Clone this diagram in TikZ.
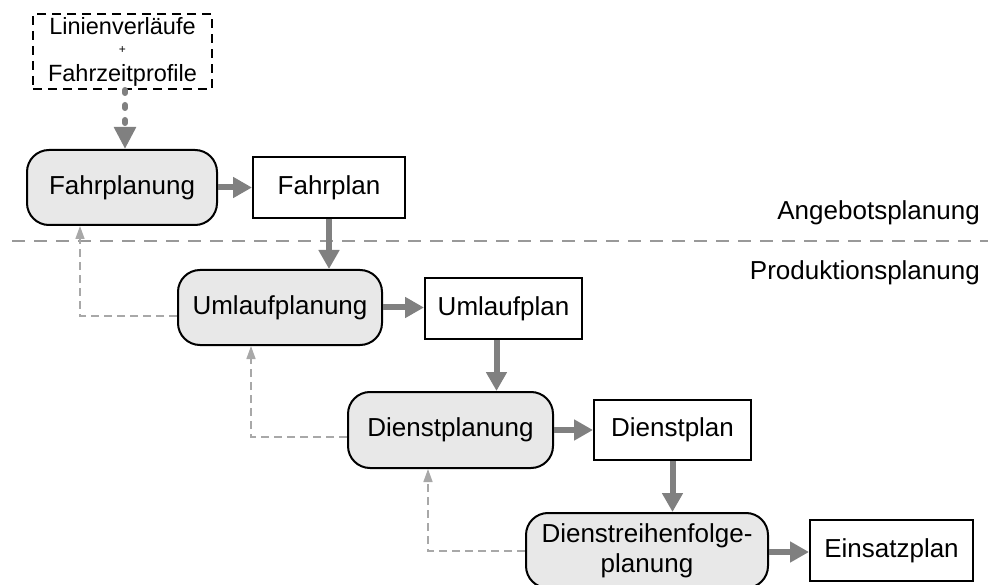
\documentclass[tikz,border=0pt]{standalone}
\usepackage{fontspec}
\setmainfont{Liberation Sans}
\usetikzlibrary{arrows.meta}
\definecolor{boxfill}{HTML}{E8E8E8}
\definecolor{flowgray}{HTML}{808080}
\definecolor{fbgray}{HTML}{A8A8A8}
\definecolor{sepgray}{HTML}{999999}

\begin{document}
\begin{tikzpicture}[x=1pt,y=-1pt,
  every node/.style={font=\fontsize{26}{30}\selectfont, inner sep=0pt},
  process/.style={draw=black, line width=2pt, fill=boxfill, rounded corners=22pt,
    align=center, text height=18.6pt, text depth=5.5pt},
  result/.style={draw=black, line width=2pt, fill=white,
    text height=18.6pt, text depth=5.5pt},
  sourcebox/.style={draw=black, line width=2pt, dash pattern=on 9pt off 6pt},
  flow/.style={draw=flowgray, line width=6pt, -{Triangle[width=20pt,length=19pt]}},
  dotflow/.style={flow, line cap=round, dash pattern=on 3pt off 12pt,
    -{Triangle[width=21pt,length=22pt]}},
  feedback/.style={draw=fbgray, line width=1.5pt, dash pattern=on 8pt off 5pt,
    -{Triangle[width=9pt,length=13pt]}},
  separator/.style={draw=sepgray, line width=2pt, dash pattern=on 13pt off 9pt},
  level/.style={anchor=base east}
]
\useasboundingbox (0,0) rectangle (988,585);
\clip (0,0) rectangle (988,585);

% input data
\node[sourcebox, minimum width=179pt, minimum height=75pt] (src) at (122.5,51.5) {};
\node[anchor=base, font=\fontsize{23.5}{28}\selectfont] (srcA) at (122.5,35) {Linienverläufe};
\node[anchor=base, font=\fontsize{12}{14}\selectfont] (srcPlus) at (122.5,54) {+};
\node[anchor=base, font=\fontsize{23.5}{28}\selectfont] (srcB) at (122.5,82) {Fahrzeitprofile};

% planning steps and their results
\node[process, minimum width=190pt, minimum height=75pt] (fplg) at (122,187.5) {Fahrplanung};
\node[result, minimum width=152pt, minimum height=61pt] (fpl) at (329,187.5) {Fahrplan};
\node[process, minimum width=204pt, minimum height=75pt] (ulfg) at (280,307.5) {Umlaufplanung};
\node[result, minimum width=157pt, minimum height=61pt] (ulf) at (503.5,308.5) {Umlaufplan};
\node[process, minimum width=205pt, minimum height=76pt] (dplg) at (450.5,430) {Dienstplanung};
\node[result, minimum width=157pt, minimum height=60pt] (dpl) at (672.5,430) {Dienstplan};
\node[process, minimum width=242pt, minimum height=75pt, text height=, text depth=]
  (drf) at (647,550.5) {Dienstreihenfolge-\\planung};
\node[result, minimum width=163pt, minimum height=61pt] (esp) at (891.5,550.5) {Einsatzplan};

% planning levels
\coordinate (sepL) at (12,241);
\coordinate (sepR) at (988,241);
\draw[separator] (sepL) -- (sepR);
\node[level] (angebot) at (980,220) {Angebotsplanung};
\node[level] (produktion) at (980,280) {Produktionsplanung};

% main flow
\draw[dotflow] ([xshift=2.5pt]src.south) -- ([xshift=2.5pt]src.south |- fplg.north);
\draw[flow] (fplg.east) -- (fpl.west);
\draw[flow] (fpl.south) -- (fpl.south |- ulfg.north);
\draw[flow] (ulfg.east) -- (ulf.west |- ulfg.east);
\draw[flow] ([xshift=-7pt]ulf.south) -- ([xshift=-7pt]ulf.south |- dplg.north);
\draw[flow] (dplg.east) -- (dpl.west);
\draw[flow] (dpl.south) -- (dpl.south |- drf.north);
\draw[flow] ([yshift=-1.5pt]drf.east) -- ([yshift=-1.5pt]esp.west);

% feedback loops
\draw[feedback] ([yshift=-8.5pt]ulfg.west) -| ([xshift=-42pt]fplg.south);
\draw[feedback] ([yshift=-7pt]dplg.west) -| ([xshift=-29pt]ulfg.south);
\draw[feedback] ([yshift=-0.5pt]drf.west) -| ([xshift=-22.5pt]dplg.south);
\end{tikzpicture}
\end{document}
